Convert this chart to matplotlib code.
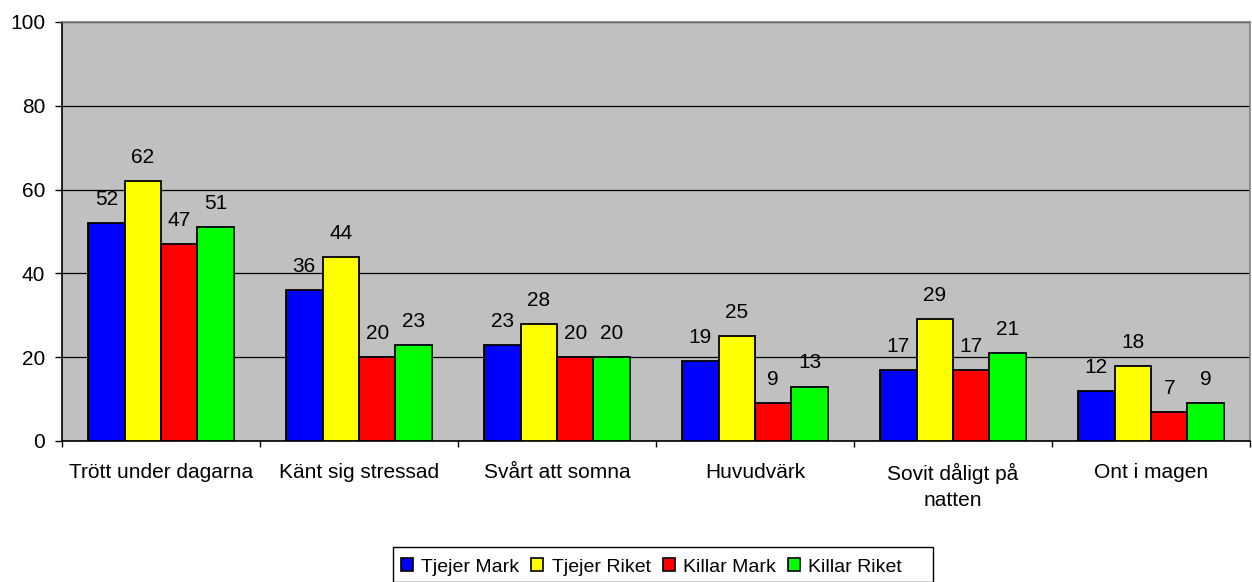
import matplotlib
matplotlib.use("Agg")
import matplotlib.pyplot as plt
import numpy as np
from matplotlib.patches import Patch, Rectangle

categories = ["Trött under dagarna", "Känt sig stressad", "Svårt att somna",
              "Huvudvärk", "Sovit dåligt på\nnatten", "Ont i magen"]
series_names = ["Tjejer Mark", "Tjejer Riket", "Killar Mark", "Killar Riket"]
tjejer_mark = [52, 36, 23, 19, 17, 12]
tjejer_riket = [62, 44, 28, 25, 29, 18]
killar_mark = [47, 20, 20, 9, 17, 7]
killar_riket = [51, 23, 20, 13, 21, 9]
colors = ["#0000FF", "#FFFF00", "#FF0000", "#00FF00"]
yticks = [0, 20, 40, 60, 80, 100]

plt.rcParams['font.family'] = ['Liberation Sans', 'DejaVu Sans']

W, H = 1252, 582
fig = plt.figure(figsize=(W/100, H/100), dpi=100)
ax = fig.add_axes([62/W, 1-441/H, 1188/W, 419/H])
ax.set_facecolor("#C0C0C0")

data = [tjejer_mark, tjejer_riket, killar_mark, killar_riket]
x = np.arange(len(categories))
bw = 0.184
for i, (vals, c) in enumerate(zip(data, colors)):
    pos = x + (i - 1.5) * bw
    ax.bar(pos, vals, bw, color=c, edgecolor="black", linewidth=1.3, zorder=3)
    for p, v in zip(pos, vals):
        ax.annotate(str(v), (p, v), xytext=(0, 13), textcoords="offset points",
                    ha="center", va="baseline", fontsize=15, zorder=4)

ax.set_xlim(-0.5, len(categories) - 0.5)
ax.set_ylim(0, 100)
ax.set_yticks(yticks)
ax.set_yticklabels([str(t) for t in yticks], fontsize=15)
ax.yaxis.grid(True, color="black", linewidth=0.9, zorder=1)
ax.set_axisbelow(True)

ax.set_xticks(x)
ax.set_xticklabels(categories, fontsize=15, linespacing=1.45)
ax.tick_params(axis='x', length=0, pad=16)
ax.set_xticks(np.arange(len(categories) + 1) - 0.5, minor=True)
ax.tick_params(axis='x', which='minor', length=4.5, width=1, color="black", direction="out")
ax.tick_params(axis='y', length=5, width=1, direction="out", pad=7)

for s in ["left", "bottom"]:
    ax.spines[s].set_color("black")
    ax.spines[s].set_linewidth(1.2)
for s in ["top", "right"]:
    ax.spines[s].set_color("#808080")
    ax.spines[s].set_linewidth(1.2)

handles = [Patch(facecolor=c, edgecolor="black", linewidth=1.2) for c in colors]
leg = fig.legend(handles, series_names, loc="center left", bbox_to_anchor=(401/W, 1-567/H),
                 ncol=4, fontsize=14, frameon=False,
                 handlelength=0.62, handleheight=0.62, handletextpad=0.42, columnspacing=0.62,
                 borderpad=0.0, borderaxespad=0)
fig.patches.append(Rectangle((393/W, 1-582/H), 540/W, 35/H, transform=fig.transFigure,
                             facecolor="white", edgecolor="black", linewidth=1.0, zorder=0))

fig.savefig("out.png", dpi=100)
